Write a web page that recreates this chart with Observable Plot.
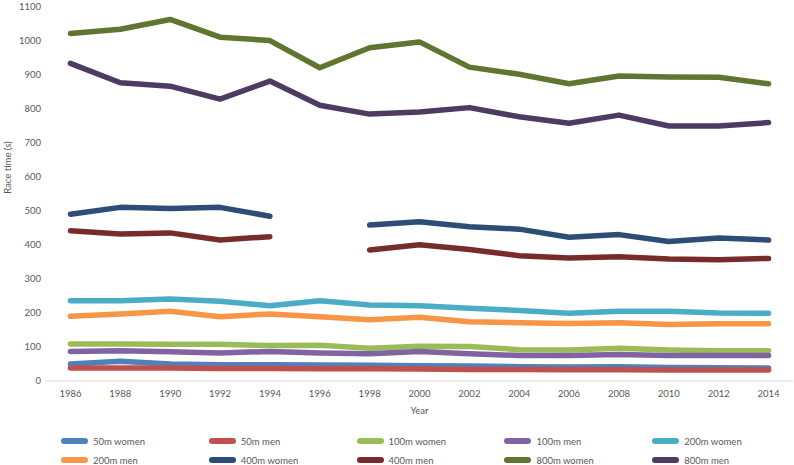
<!DOCTYPE html>
<html>
<head>
<meta charset="utf-8">
<script src="https://cdn.jsdelivr.net/npm/d3@7"></script>
<script src="https://cdn.jsdelivr.net/npm/@observablehq/plot@0.6"></script>
<style>
  html, body { margin: 0; padding: 0; background: #fff; }
  #wrap { position: relative; width: 794px; height: 465px; overflow: hidden; }
  #legend { position: absolute; left: 0; top: 0; width: 794px; height: 465px; pointer-events: none; }
  .item { position: absolute; display: flex; align-items: center; font-family: Lato, "Open Sans", sans-serif; font-size: 9.5px; color: #595959; white-space: nowrap; }
  .sw { width: 27px; height: 6px; border-radius: 3px; margin-right: 5px; }
</style>
</head>
<body>
<div id="wrap"><div id="chart"></div><div id="legend"></div></div>
<script>
const years = [1986, 1988, 1990, 1992, 1994, 1996, 1998, 2000, 2002, 2004, 2006, 2008, 2010, 2012, 2014];
const seriesNames = ["50m women", "50m men", "100m women", "100m men", "200m women", "200m men", "400m women", "400m men", "800m women", "800m men"];
const seriesColors = ["#4F81BD", "#C0504D", "#9BBB59", "#8064A2", "#4BACC6", "#F79646", "#2C4D75", "#772C2A", "#5F7530", "#4D3B62"];

const w50  = [50, 58, 50, 48, 48, 47, 46, 45, 44, 42, 41, 42, 40, 39, 38];
const m50  = [38, 38, 38, 37, 37, 36, 36, 35, 34, 34, 33, 33, 32, 32, 32];
const w100 = [109, 109, 108, 108, 104, 105, 96, 102, 101, 92, 91, 96, 91, 89, 89];
const m100 = [87, 89, 86, 82, 87, 82, 80, 87, 80, 75, 75, 78, 75, 75, 75];
const w200 = [236, 236, 241, 234, 221, 236, 223, 221, 214, 207, 199, 205, 205, 200, 199];
const m200 = [190, 197, 205, 189, 197, 189, 180, 187, 174, 171, 169, 171, 166, 168, 168];
const w400 = [490, 510, 507, 510, 484, null, 458, 468, 453, 446, 422, 430, 410, 420, 414];
const m400 = [441, 432, 435, 414, 424, null, 385, 400, 386, 368, 361, 365, 358, 356, 360];
const w800 = [1021, 1033, 1062, 1010, 1000, 920, 979, 996, 922, 901, 873, 896, 893, 892, 873];
const m800 = [933, 876, 866, 828, 881, 810, 784, 790, 803, 776, 757, 781, 749, 749, 759];

const yTicks = [0, 100, 200, 300, 400, 500, 600, 700, 800, 900, 1000, 1100];
const xTicks = years;

const allSeries = [w50, m50, w100, m100, w200, m200, w400, m400, w800, m800];
const rows = [];
allSeries.forEach((vals, i) => {
  vals.forEach((v, j) => rows.push({series: seriesNames[i], year: years[j], value: v}));
});

const font = "Lato, 'Open Sans', sans-serif";
const chart = Plot.plot({
  width: 794,
  height: 425,
  marginTop: 6,
  marginBottom: 44.5,
  marginLeft: 45,
  marginRight: 1,
  style: { fontFamily: font, fontSize: "9.5px", color: "#595959", background: "#fff" },
  x: { domain: [1985, 2015] },
  y: { domain: [0, 1100] },
  color: { domain: seriesNames, range: seriesColors },
  marks: [
    Plot.ruleY([0], { stroke: "#d9d9d9", strokeWidth: 1 }),
    Plot.line(rows, {
      x: "year", y: "value", z: "series", stroke: "series",
      strokeWidth: 5.5, strokeLinecap: "round", strokeLinejoin: "round"
    }),
    Plot.axisX({ ticks: xTicks, tickFormat: d => String(d), tickSize: 0, tickPadding: 9, label: null, fill: "#595959" }),
    Plot.axisY({ ticks: yTicks, tickFormat: d => String(d), tickSize: 0, tickPadding: 4.5, label: null, fill: "#595959" }),
    Plot.text(["Race time (s)"], { frameAnchor: "left", dx: -38, rotate: -90, fill: "#595959", fontSize: 9.5 }),
    Plot.text(["Year"], { frameAnchor: "bottom", dy: 33, fill: "#595959", fontSize: 9.5 })
  ]
});
document.getElementById("chart").appendChild(chart);

const legend = document.getElementById("legend");
seriesNames.forEach((name, i) => {
  const col = i % 5, row = Math.floor(i / 5);
  const item = document.createElement("div");
  item.className = "item";
  item.style.left = (61 + col * 147.8) + "px";
  item.style.top = (441 + row * 19 - 6) + "px";
  item.style.height = "12px";
  const sw = document.createElement("div");
  sw.className = "sw";
  sw.style.background = seriesColors[i];
  const t = document.createElement("span");
  t.textContent = name;
  item.appendChild(sw);
  item.appendChild(t);
  legend.appendChild(item);
});
</script>
</body>
</html>
